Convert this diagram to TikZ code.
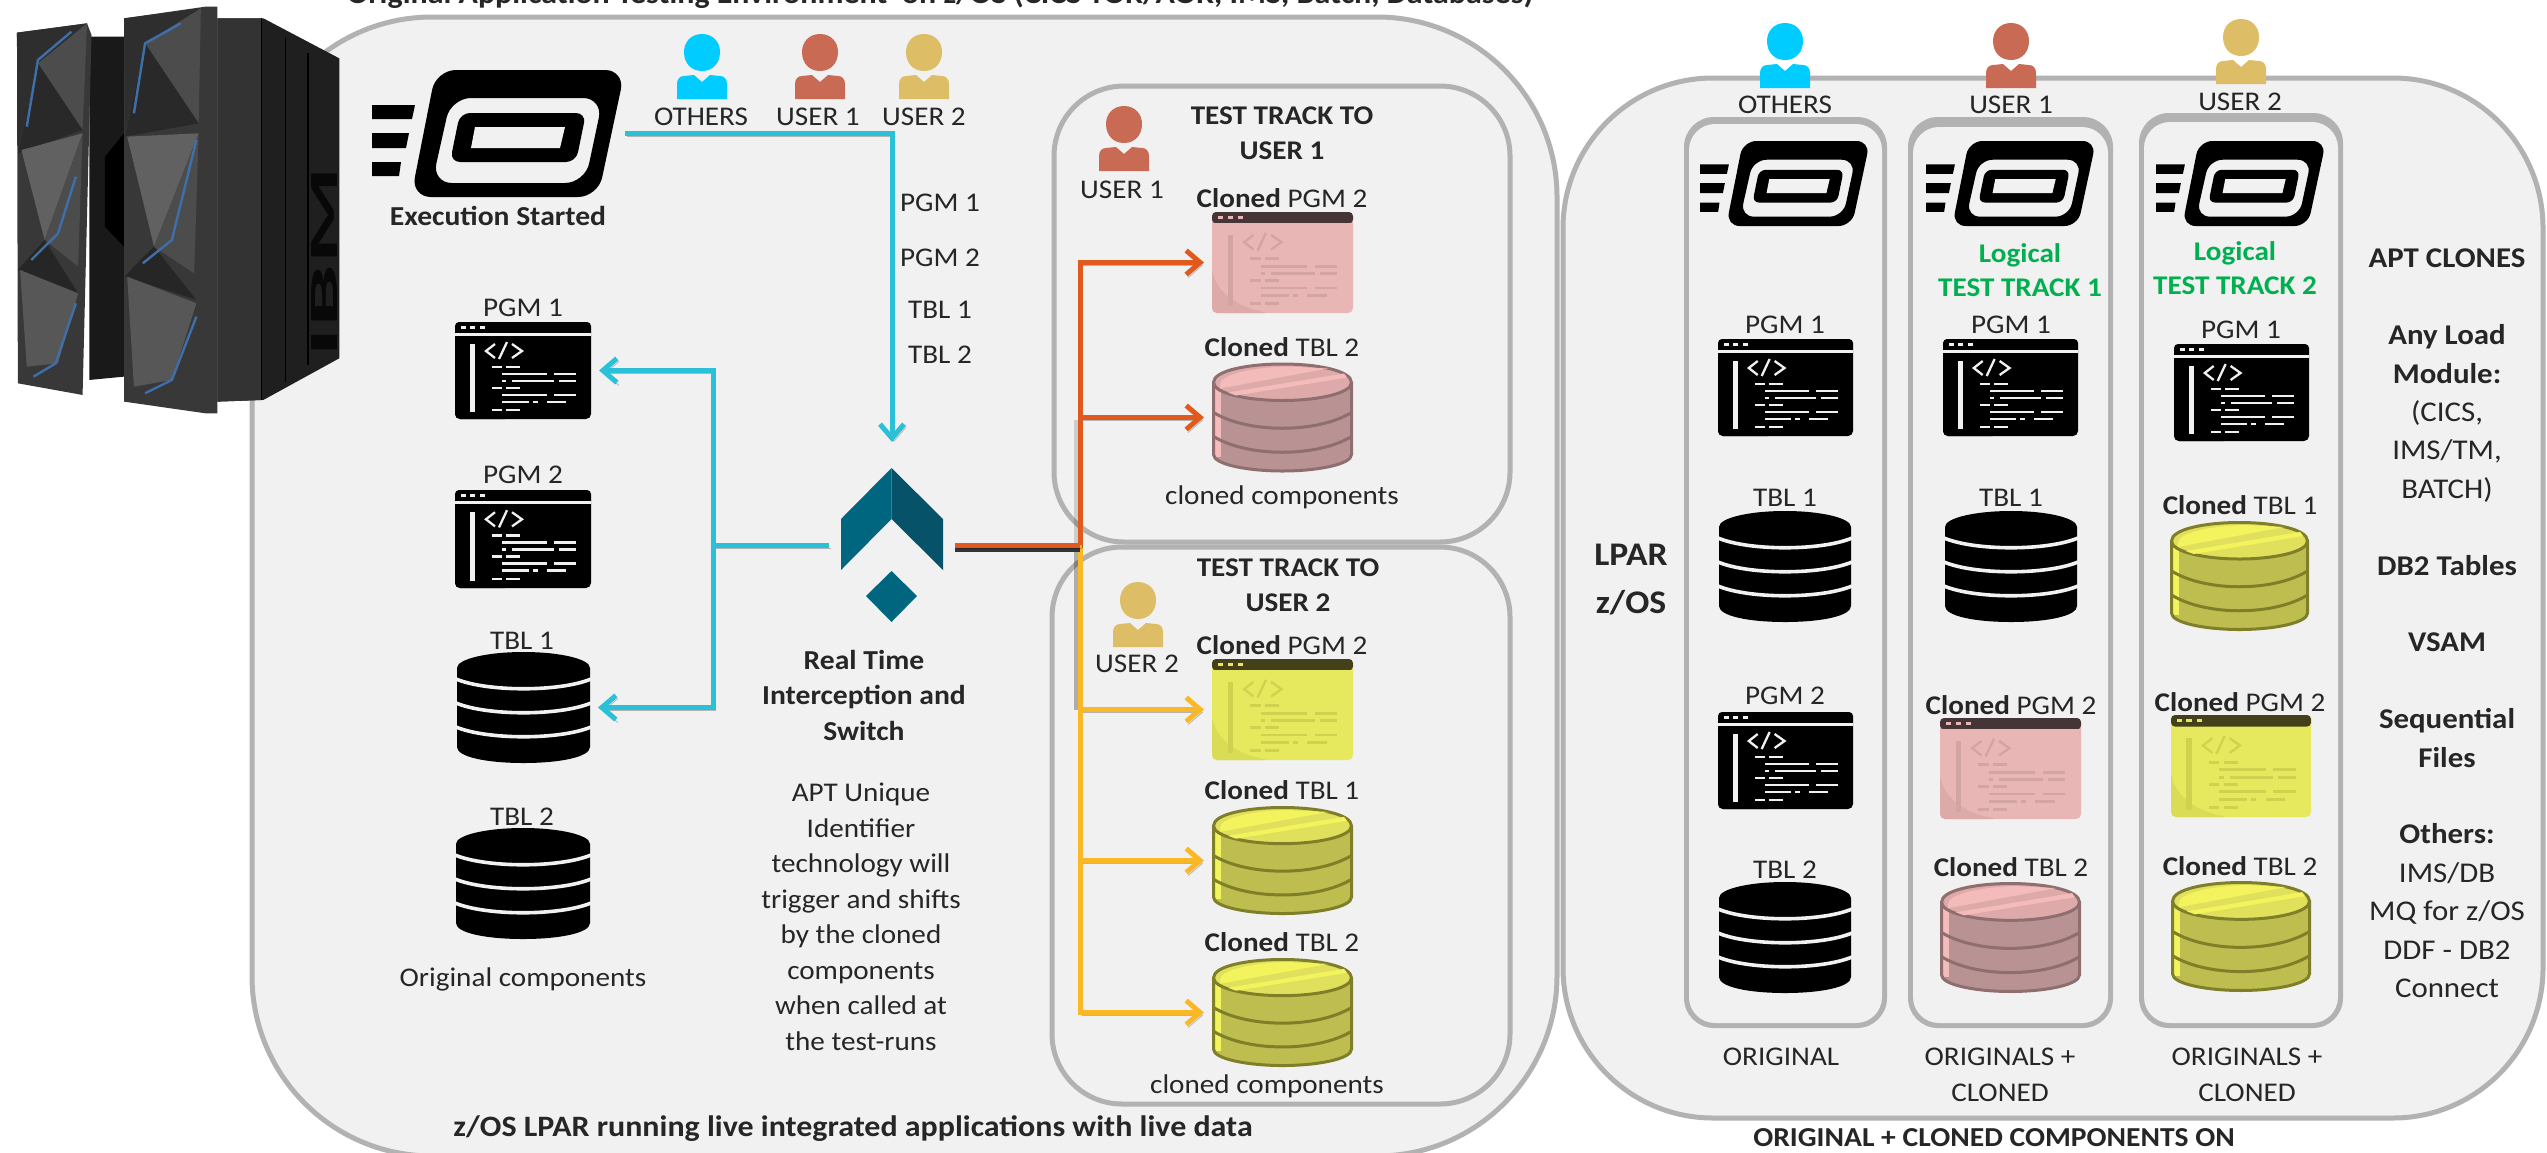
\documentclass[tikz,border=0pt]{standalone}
\usepackage{fontspec}
\setmainfont[FakeStretch=1.08]{Carlito}
\usetikzlibrary{arrows.meta,calc}
\definecolor{panelfill}{HTML}{F1F1F1}
\definecolor{panelline}{HTML}{B2B2B2}
\definecolor{ink}{HTML}{262626}
\definecolor{cyanline}{HTML}{29C0D8}
\definecolor{orangeline}{HTML}{E05A1E}
\definecolor{yellowline}{HTML}{FBB826}
\definecolor{others}{HTML}{00CCFF}
\definecolor{userone}{HTML}{C96A55}
\definecolor{usertwo}{HTML}{DDBD66}
\definecolor{logic}{HTML}{00B050}
\definecolor{swleft}{HTML}{006680}
\definecolor{swright}{HTML}{055269}
\definecolor{mfblue}{HTML}{3E6FA8}
\definecolor{bkbody}{HTML}{000000}\definecolor{bkbar}{HTML}{000000}\definecolor{bkink}{HTML}{F0F0F0}\definecolor{bkgap}{HTML}{F1F1F1}\definecolor{bkdot}{HTML}{F0F0F0}\definecolor{bkcorner}{HTML}{000000}
\definecolor{pkbody}{HTML}{E9B6B6}\definecolor{pkbar}{HTML}{463536}\definecolor{pkink}{HTML}{D3A4A4}\definecolor{pkgap}{HTML}{E9B6B6}\definecolor{pkdot}{HTML}{E9B6B6}\definecolor{pkcorner}{HTML}{DDAAAA}
\definecolor{ylbody}{HTML}{E6E85E}\definecolor{ylbar}{HTML}{44401A}\definecolor{ylink}{HTML}{CFD24F}\definecolor{ylgap}{HTML}{E6E85E}\definecolor{yldot}{HTML}{E6E85E}\definecolor{ylcorner}{HTML}{DADC55}
\definecolor{pkdbfill}{HTML}{B99393}\definecolor{pkdbline}{HTML}{8E6E6E}\definecolor{pkdbtop}{HTML}{DEA9A9}\definecolor{pkdblight}{HTML}{F4BBBB}
\definecolor{yldbfill}{HTML}{BDBD50}\definecolor{yldbline}{HTML}{7F7F2A}\definecolor{yldbtop}{HTML}{E0E05C}\definecolor{yldblight}{HTML}{F3F35E}
\tikzset{
  panel/.style={draw=panelline,fill=panelfill,line width=2.5pt},
  iconbox/.style={inner sep=0pt,outer sep=4pt,draw=none},
  lbl/.style={inner sep=0pt,align=center,text=ink,font=\fontsize{13.5}{17.75}\selectfont},
  boldlbl/.style={lbl,font=\fontsize{13.7}{17.75}\selectfont\bfseries},
  sidelbl/.style={lbl,font=\fontsize{14.3}{19.2}\selectfont},
  logiclbl/.style={lbl,text=logic,font=\fontsize{13.5}{17.25}\selectfont\bfseries},
  conn/.style={line width=2.5pt,-{Straight Barb[length=7pt,width=12pt]},preaction={draw=black,opacity=.25,transform canvas={shift={(1pt,-1.5pt)}}}},
  plainconn/.style={line width=2.5pt,preaction={draw=black,opacity=.25,transform canvas={shift={(1pt,-1.5pt)}}}},
}
% program window icon: name, centre x, y, width, height, colour set
\newcommand{\pgmicon}[6]{%
  \node[iconbox,minimum width=#4*.5pt,minimum height=#5*.5pt] (#1) at (#2,#3) {};
  \begin{scope}[shift={(#2-#4/2,#3-#5/2)},xscale=#4/136,yscale=#5/97]
    \fill[#6body,rounded corners=2.5pt] (0,2) rectangle (136,97);
    \fill[#6corner,rounded corners=2.5pt] (0,55) .. controls (6,80) and (28,92) .. (55,97) -- (0,97) -- cycle;
    \fill[#6bar,rounded corners=2pt] (0,0) -- (136,0) -- (136,11) -- (0,11) -- cycle;
    \fill[#6gap] (0,11) rectangle (136,14);
    \foreach \dx in {6,15,25} \fill[#6dot] (\dx,3.5) rectangle ++(5,3.5);
    \fill[#6ink] (15,22) rectangle (20,90);
    \draw[#6ink,line width=1.15pt] (40,22) -- (31,29) -- (40,36);
    \draw[#6ink,line width=1.15pt] (44,37) -- (52,20);
    \draw[#6ink,line width=1.15pt] (57,22) -- (67,29) -- (57,36);
    \foreach \a/\b/\y in {37/47/45,51/65/45,47/92/52,99/121/52,47/51/59,57/99/59,104/121/59,37/47/66,51/65/66,47/92/73,99/121/73,47/74/80,78/83/80,92/111/80,37/47/88,51/65/88}
      \fill[#6ink] (\a,\y-1.4) rectangle (\b,\y+1.4);
  \end{scope}}
% black database icon: name, centre x, y, width, height
\newcommand{\dbblack}[5]{%
  \node[iconbox,minimum width=#4*.5pt,minimum height=#5*.5pt] (#1) at (#2,#3) {};
  \begin{scope}[shift={(#2-#4/2,#3-#5/2)},xscale=#4/133,yscale=#5/111]
    \fill[black] (0,16) .. controls (0,7) and (30,0) .. (66.5,0) .. controls (103,0) and (133,7) .. (133,16) -- (133,95) .. controls (133,105) and (103,111) .. (66.5,111) .. controls (30,111) and (0,105) .. (0,95) -- cycle;
    \foreach \y in {27,51,75}
      \draw[panelfill,line width=1.8pt] (-1,\y) .. controls (30,\y+13) and (103,\y+13) .. (134,\y);
  \end{scope}}
% coloured database icon: name, centre x, y, width, height, colour set
\newcommand{\dbcolour}[6]{%
  \node[iconbox,minimum width=#4*.5pt,minimum height=#5*.5pt] (#1) at (#2,#3) {};
  \begin{scope}[shift={(#2-#4/2,#3-#5/2)},xscale=#4/141,yscale=#5/110]
    \path[fill=#6dbfill] (1.5,20) -- (139.5,20) -- (139.5,92) .. controls (139.5,102) and (105,108.5) .. (70.5,108.5) .. controls (36,108.5) and (1.5,102) .. (1.5,92) -- cycle;
    \fill[#6dblight] (2,22) rectangle (9,94);
    \foreach \y in {50,74}
      \draw[#6dbline,line width=1.5pt] (1.5,\y) .. controls (36,\y+21) and (105,\y+21) .. (139.5,\y);
    \draw[#6dbline,line width=1.5pt] (1.5,20) -- (1.5,92) .. controls (1.5,102) and (36,108.5) .. (70.5,108.5) .. controls (105,108.5) and (139.5,102) .. (139.5,92) -- (139.5,20);
    \draw[#6dbline,line width=1.5pt,fill=#6dbtop] (1.5,20) .. controls (1.5,8) and (36,1.5) .. (70.5,1.5) .. controls (105,1.5) and (139.5,8) .. (139.5,20) .. controls (139.5,31) and (105,38) .. (70.5,38) .. controls (36,38) and (1.5,31) .. (1.5,20) -- cycle;
    \fill[#6dblight] (8,22) .. controls (8,12) and (40,5) .. (75,4) -- (116,6) -- (8,26) -- cycle;
    \fill[#6dblight] (16,30) -- (132,11) -- (135,15) -- (24,33) -- cycle;
  \end{scope}}
% person glyph: name, centre x, top y, colour
\newcommand{\person}[4]{%
  \coordinate (#1) at (#2,#3);
  \begin{scope}[shift={(#2,#3)}]
    \fill[#4] (0,0) .. controls (11,0) and (18,8) .. (18,18) .. controls (18,29) and (11,37) .. (0,37) .. controls (-11,37) and (-18,29) .. (-18,18) .. controls (-18,8) and (-11,0) .. (0,0) -- cycle;
    \fill[#4] (-25,65) -- (-25,50) .. controls (-25,45) and (-22,42) .. (-18,42) -- (-8,41) -- (0,48) -- (8,41) -- (18,42) .. controls (22,42) and (25,45) .. (25,50) -- (25,65) -- cycle;
  \end{scope}}
% start icon: name, centre x, y, width, height
\newcommand{\execicon}[5]{%
  \node[inner sep=0pt,outer sep=0pt,minimum width=#4*.5pt,minimum height=#5*.5pt] (#1) at (#2,#3) {};
  \begin{scope}[shift={(#2-#4/2,#3-#5/2)},xscale=#4/253,yscale=#5/127]
    \fill[black] (0,35) -- (43,35) -- (40,49) -- (0,49) -- cycle (0,63) -- (37,63) -- (34,78) -- (0,78) -- cycle (0,92) -- (29,92) -- (27,106) -- (0,106) -- cycle;
    \begin{scope}[rounded corners=#4/253*10pt]
    \fill[black,even odd rule] (64,0) -- (253,0) -- (226,127) -- (39,127) -- cycle (79,28) -- (231,28) -- (213,113) -- (60,113) -- cycle;
    \end{scope}
    \begin{scope}[rounded corners=#4/253*5pt]
    \fill[black,even odd rule] (88,43) -- (214,43) -- (204,92) -- (78,92) -- cycle;
    \end{scope}
    \fill[panelfill] (103,57) -- (193,57) -- (188,78) -- (99,78) -- cycle;
  \end{scope}}
% column frame: left, top, right, bottom, inner top
\newcommand{\colframe}[5]{%
  \fill[panelline,rounded corners=15pt] (#1,#2) rectangle (#3,#4);
  \fill[panelfill,rounded corners=13pt] (#1+5,#5) rectangle (#3-5,#4-5);}
\begin{document}
\begin{tikzpicture}[x=.5pt,y=-.5pt]
\useasboundingbox (0,0) rectangle (2547,1152);
\clip (0,0) rectangle (2547,1152);
\fill[white] (0,0) rectangle (2547,1152);
% panels
\draw[panel,rounded corners=90pt] (252,17) rectangle (1557,1156);
\draw[panel,rounded corners=75pt] (1563,78) rectangle (2543,1118);
\draw[panel,rounded corners=35pt] (1054,86) rectangle (1510,542);
\draw[panel,rounded corners=35pt] (1052,547) rectangle (1510,1104);
% title
\node[lbl,anchor=base,font=\fontsize{14.8}{16}\selectfont\bfseries] (title) at (940,3) {Original Application Testing Environment\ \ on z/OS (CICS TOR/AOR, IMS, Batch, Databases)};
% mainframe photo
\begin{scope}[xscale=.4464,yscale=.3333]
  \fill[black!90] (200,110) -- (278,110) -- (278,1130) -- (200,1140) -- cycle;
  \fill[black] (278,400) -- (235,470) -- (235,680) -- (278,740) -- cycle;
  \fill[black!88] (487,55) -- (590,55) -- (760,175) -- (760,1075) -- (590,1200) -- (487,1205) -- cycle;
  \fill[black!80] (487,55) -- (585,55) -- (585,1200) -- (487,1205) -- cycle;
  \foreach \sx in {585,640,690} \draw[black,line width=.6pt] (\sx,55+\sx-585) -- (\sx,1200-\sx+585);
  % left cabinet
  \fill[black!78] (38,98) -- (195,70) -- (205,105) -- (185,1185) -- (40,1150) -- cycle;
  \fill[black!82] (38,98) -- (195,70) -- (85,190) -- (40,450) -- cycle;
  \fill[black!70] (195,70) -- (185,390) -- (85,190) -- cycle;
  \fill[black!84] (85,190) -- (185,390) -- (40,460) -- cycle;
  \fill[black!62] (48,450) -- (185,400) -- (100,720) -- cycle;
  \fill[black!70] (185,400) -- (175,800) -- (100,720) -- cycle;
  \fill[black!85] (60,780) -- (100,720) -- (175,880) -- (40,810) -- cycle;
  \fill[black!66] (45,810) -- (175,880) -- (130,1090) -- (60,1100) -- cycle;
  \draw[mfblue,line width=1.2pt] (160,95) -- (85,180) -- (60,380);
  \draw[mfblue,line width=1.2pt] (170,530) -- (130,700) -- (70,780);
  \draw[mfblue,line width=1.2pt] (170,910) -- (125,1090) -- (75,1130);
  % right cabinet
  \fill[black!78] (278,55) -- (460,20) -- (487,20) -- (487,1240) -- (460,1240) -- (278,1205) -- cycle;
  \fill[black!82] (278,55) -- (450,25) -- (325,130) -- (280,400) -- cycle;
  \fill[black!70] (450,25) -- (445,370) -- (325,130) -- cycle;
  \fill[black!84] (325,130) -- (445,370) -- (280,410) -- cycle;
  \fill[black!62] (285,410) -- (445,400) -- (345,740) -- cycle;
  \fill[black!70] (445,400) -- (435,820) -- (345,740) -- cycle;
  \fill[black!85] (300,800) -- (345,740) -- (440,900) -- (280,830) -- cycle;
  \fill[black!66] (285,830) -- (440,910) -- (385,1140) -- (300,1160) -- cycle;
  \draw[mfblue,line width=1.2pt] (405,70) -- (325,130) -- (300,340);
  \draw[mfblue,line width=1.2pt] (440,420) -- (385,720) -- (320,790);
  \draw[mfblue,line width=1.2pt] (440,950) -- (385,1140) -- (325,1180);
\end{scope}
\node[inner sep=0pt,text=black!97,rotate=90,font=\fontsize{20}{20}\selectfont\bfseries] (ibmlogo) at (325,262) {\scalebox{2.6}[1]{IBM}};
% left-hand side icons
\execicon{exec}{498.5}{133.5}{253}{127}
\node[boldlbl] (execlbl) at (498,216) {Execution Started};
\person{pa}{702}{34}{others}\person{pb}{820}{34}{userone}\person{pc}{924}{34}{usertwo}
\node[lbl] (palbl) at (701,117) {OTHERS};
\node[lbl] (pblbl) at (818,117) {USER 1};
\node[lbl] (pclbl) at (924,117) {USER 2};
\node[lbl] (flow) at (940,203) {PGM 1};
\node[lbl] (flowb) at (940,258) {PGM 2};
\node[lbl] (flowc) at (940,310) {TBL 1};
\node[lbl] (flowd) at (940,355) {TBL 2};
\node[lbl] (lp1) at (523,308) {PGM 1};
\pgmicon{pgmone}{523}{370.5}{136}{97}{bk}
\node[lbl] (lp2) at (523,475) {PGM 2};
\pgmicon{pgmtwo}{523}{539}{136}{98}{bk}
\node[lbl] (lt1) at (522,641) {TBL 1};
\dbblack{tblone}{523.5}{707.5}{133}{111}
\node[lbl] (lt2) at (522,817) {TBL 2};
\dbblack{tbltwo}{523}{883.5}{134}{111}
\node[lbl] (origcomp) at (523,979) {Original components};
% switch
\node[inner sep=0pt,outer sep=6pt,minimum width=51pt,minimum height=77pt] (sw) at (892,545) {};
\fill[swleft] (891.5,468) -- (891.5,519) -- (841,570) -- (841,519) -- cycle;
\fill[swright] (891.5,468) -- (943,519) -- (943,570) -- (891.5,519) -- cycle;
\fill[swleft] (891.5,571) -- (917,596) -- (891.5,622) -- (866,596) -- cycle;
\node[boldlbl] (swlbl) at (864,695) {Real Time\\Interception and\\Switch};
\node[lbl] (swtext) at (861,917) {APT Unique\\Identifier\\technology will\\trigger and shifts\\by the cloned\\components\\when called at\\the test-runs};
\node[lbl,font=\fontsize{14.8}{17}\selectfont\bfseries] (lparlbl) at (853,1129) {z/OS LPAR running live integrated applications with live data};
% track 1
\person{tu}{1124}{106}{userone}
\node[lbl,font=\fontsize{13.5}{17.5}\selectfont\bfseries] (t1title) at (1282,133) {TEST TRACK TO\\USER 1};
\node[lbl] (t1user) at (1122,190) {USER 1};
\node[lbl] (t1l1) at (1282,198) {\textbf{Cloned} PGM 2};
\pgmicon{tonepgm}{1282.5}{262.5}{141}{101}{pk}
\node[lbl] (t1l2) at (1282,347) {\textbf{Cloned} TBL 2};
\dbcolour{tonedb}{1282.5}{417.5}{141}{110}{pk}
\node[lbl] (t1l3) at (1282,497) {cloned components};
% track 2
\person{tv}{1138}{582}{usertwo}
\node[lbl,font=\fontsize{13.5}{17.5}\selectfont\bfseries] (t2title) at (1288,585) {TEST TRACK TO\\USER 2};
\node[lbl] (t2user) at (1137,664) {USER 2};
\node[lbl] (t2l1) at (1282,645) {\textbf{Cloned} PGM 2};
\pgmicon{ttwopgm}{1282.5}{709.5}{141}{101}{yl}
\node[lbl] (t2l2) at (1282,790) {\textbf{Cloned} TBL 1};
\dbcolour{ttwodba}{1282.5}{860.5}{141}{109}{yl}
\node[lbl] (t2l3) at (1282,942) {\textbf{Cloned} TBL 2};
\dbcolour{ttwodbb}{1282.5}{1012.5}{141}{109}{yl}
\node[lbl] (t2l4) at (1267,1086) {cloned components};
% connectors
\coordinate (cyjunc) at (713,545);
\coordinate (split) at (1080,545);
\draw[conn,cyanline,shorten >=7pt] (exec.east) -| (sw.north);
\draw[plainconn,cyanline] (sw.west) -- (cyjunc);
\draw[conn,cyanline] (cyjunc) |- (pgmone.east);
\draw[conn,cyanline] (cyjunc) |- (tblone.east);
\draw[black,opacity=.28,line width=2pt,transform canvas={shift={(-2pt,0pt)}}] (split) -- ++(0,165);
\draw[conn,yellowline] (split) |- (ttwopgm.west);
\draw[conn,yellowline] (split) |- (ttwodba.west);
\draw[conn,yellowline] (split) |- (ttwodbb.west);
\draw[black,opacity=.15,line width=2pt,transform canvas={shift={(-2pt,0pt)}}] (split) -- ++(0,-125);
\draw[line width=2.5pt,black!80,transform canvas={shift={(0pt,-2pt)}}] (sw.east) -- (split);
\draw[plainconn,orangeline] (sw.east) -- (split);
\draw[conn,orangeline] (split) |- (tonepgm.west);
\draw[conn,orangeline] (split) |- (tonedb.west);
% right panel
\colframe{1684}{117}{1887}{1028}{124}
\colframe{1908}{117}{2113}{1028}{127}
\colframe{2139}{113}{2343}{1028}{122}
\person{ra}{1785}{23}{others}\person{rb}{2011}{23}{userone}\person{rc}{2241}{19}{usertwo}
\node[lbl] (ral) at (1785,105) {OTHERS};
\node[lbl] (rbl) at (2011,105) {USER 1};
\node[lbl] (rcl) at (2240,102) {USER 2};
\node[lbl,font=\fontsize{16.5}{24}\selectfont\bfseries] (lparz) at (1631,580) {LPAR\\z/OS};
\execicon{exa}{1785}{183.5}{170}{85}
\execicon{exb}{2011}{183.5}{170}{85}
\execicon{exc}{2241}{183.5}{170}{85}
\node[logiclbl] (logb) at (2020,270) {Logical\\TEST TRACK 1};
\node[logiclbl] (logc) at (2235,268) {Logical\\TEST TRACK 2};
\node[lbl] (a1) at (1785,325) {PGM 1};
\pgmicon{ap}{1785.5}{387.5}{135}{97}{bk}
\node[lbl] (a2) at (1785,498) {TBL 1};
\dbblack{at}{1785}{566.5}{132}{111}
\node[lbl] (a3) at (1785,696) {PGM 2};
\pgmicon{aq}{1785.5}{760.5}{135}{97}{bk}
\node[lbl] (a4) at (1785,870) {TBL 2};
\dbblack{au}{1785}{937.5}{132}{111}
\node[lbl] (b1) at (2011,325) {PGM 1};
\pgmicon{bp}{2010.5}{387.5}{135}{97}{bk}
\node[lbl] (b2) at (2011,498) {TBL 1};
\dbblack{bt}{2011}{566.5}{132}{111}
\node[lbl] (b3) at (2011,705) {\textbf{Cloned} PGM 2};
\pgmicon{bq}{2010.5}{768.5}{141}{101}{pk}
\node[lbl] (b4) at (2011,867) {\textbf{Cloned} TBL 2};
\dbcolour{bu}{2010.5}{937.5}{141}{111}{pk}
\node[lbl] (c1) at (2241,330) {PGM 1};
\pgmicon{cp}{2241.5}{392.5}{135}{97}{bk}
\node[lbl] (c2) at (2240,505) {\textbf{Cloned} TBL 1};
\dbcolour{ct}{2239.5}{576}{139}{110}{yl}
\node[lbl] (c3) at (2240,702) {\textbf{Cloned} PGM 2};
\pgmicon{cq}{2241}{766}{140}{102}{yl}
\node[lbl] (c4) at (2240,866) {\textbf{Cloned} TBL 2};
\dbcolour{cu}{2241}{936.5}{140}{111}{yl}
\node[lbl] (ft1) at (1781,1057) {ORIGINAL};
\node[lbl] (ft2) at (2000,1075) {ORIGINALS +\\CLONED};
\node[lbl] (ft3) at (2247,1075) {ORIGINALS +\\CLONED};
\node[boldlbl] (ftb) at (1994,1138) {ORIGINAL + CLONED COMPONENTS ON};
\node[sidelbl] (side) at (2447,623.5) {\textbf{APT CLONES}\\ ~ \\\textbf{Any Load}\\\textbf{Module:}\\(CICS,\\IMS/TM,\\BATCH)\\ ~ \\\textbf{DB2 Tables}\\ ~ \\\textbf{VSAM}\\ ~ \\\textbf{Sequential}\\\textbf{Files}\\ ~ \\\textbf{Others:}\\IMS/DB\\MQ for z/OS\\DDF - DB2\\Connect};
\end{tikzpicture}
\end{document}
